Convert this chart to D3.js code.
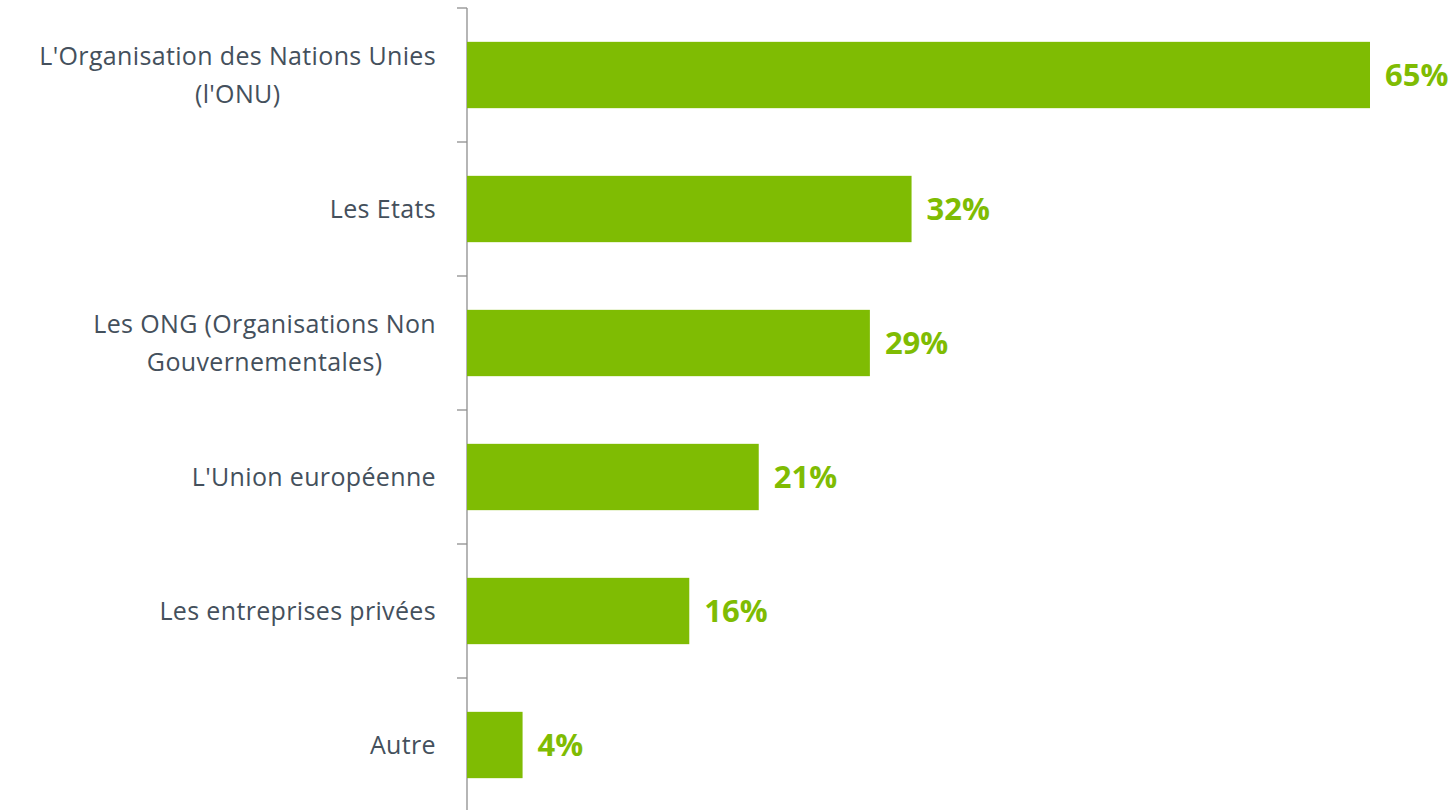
<!DOCTYPE html>
<html>
<head>
<meta charset="utf-8">
<script src="https://cdn.jsdelivr.net/npm/d3@7"></script>
<style>
  body { margin: 0; background: #fff; }
  svg { display: block; }
  .cat { font-family: "Open Sans", sans-serif; font-size: 25px; letter-spacing: 0.35px; fill: #44505c; }
  .val { font-family: "Open Sans", sans-serif; font-size: 31px; font-weight: bold; fill: #7fbc03; }
</style>
</head>
<body>
<div id="container"></div>
<script>
// Data
const categories = [
    ["L'Organisation des Nations Unies", "(l'ONU)"],
    ["Les Etats"],
    ["Les ONG (Organisations Non", "Gouvernementales)"],
    ["L'Union européenne"],
    ["Les entreprises privées"],
    ["Autre"]
];
const values = [65, 32, 29, 21, 16, 4];
const valueLabels = ["65%", "32%", "29%", "21%", "16%", "4%"];

const width = 1456;
const height = 810;

// Chart area
const padding = { top: 8, left: 467, right: 86 };
const bandSize = 134;

const svg = d3.select('#container').append('svg')
    .attr('width', width)
    .attr('height', height);

const idx = d3.range(categories.length);

//Y-Scale (bands)
const yScale = d3.scaleBand()
    .domain(idx)
    .range([padding.top, padding.top + bandSize * categories.length])
    .paddingInner(0.505)
    .paddingOuter(0.2525);

//X-Scale
const xScale = d3.scaleLinear()
    .domain([0, 65])
    .range([padding.left, 1370]);

// Axis line and ticks between categories
const tickYs = d3.range(categories.length + 1).map(i => padding.top + i * bandSize);
svg.append('line')
    .attr('x1', padding.left).attr('x2', padding.left)
    .attr('y1', padding.top).attr('y2', tickYs[tickYs.length - 1])
    .attr('stroke', '#8e8e8e').attr('stroke-width', 1.3);
svg.selectAll('.tick')
    .data(tickYs)
    .enter()
    .append('line')
    .attr('x1', padding.left - 10).attr('x2', padding.left)
    .attr('y1', d => d).attr('y2', d => d)
    .attr('stroke', '#8e8e8e').attr('stroke-width', 1.3);

// Bars
svg.selectAll('rect')
    .data(values)
    .enter()
    .append('rect')
    .attr('x', xScale(0))
    .attr('y', (d, i) => yScale(i))
    .attr('width', d => xScale(d) - xScale(0))
    .attr('height', yScale.bandwidth())
    .attr('fill', '#7fbc03');

// Value labels
svg.selectAll('.val')
    .data(values)
    .enter()
    .append('text')
    .attr('class', 'val')
    .attr('x', d => xScale(d) + 15)
    .attr('y', (d, i) => yScale(i) + yScale.bandwidth() / 2)
    .attr('dy', '0.36em')
    .text((d, i) => valueLabels[i]);

// Category labels (multi-line lines centered on each other, block right aligned)
const labelRight = 436;
const lineHeight = 38;
categories.forEach((lines, i) => {
    const g = svg.append('text').attr('class', 'cat');
    const cy = yScale(i) + yScale.bandwidth() / 2;
    const spans = lines.map((l, j) => g.append('tspan')
        .attr('y', cy + (j - (lines.length - 1) / 2) * lineHeight)
        .attr('dy', '0.35em')
        .text(l));
    const maxW = d3.max(spans, s => s.node().getComputedTextLength());
    spans.forEach(s => s.attr('x', labelRight - maxW / 2).attr('text-anchor', 'middle'));
});
</script>
</body>
</html>
